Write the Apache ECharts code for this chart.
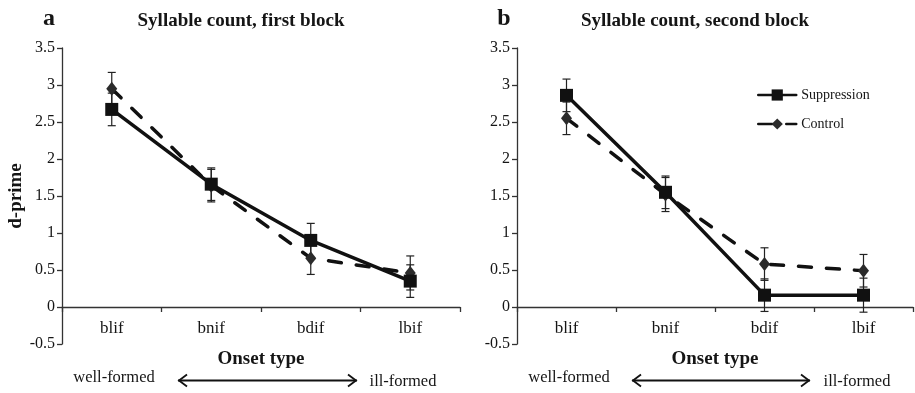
<!DOCTYPE html>
<html>
<head>
<meta charset="utf-8">
<script src="https://cdn.jsdelivr.net/npm/echarts@6/dist/echarts.min.js"></script>
<style>
  html, body { margin: 0; padding: 0; background: #fff; }
  #chart { width: 915px; height: 393px; }
</style>
</head>
<body>
<div id="chart"></div>
<script>
// Onset types on the x axis (well-formed -> ill-formed)
const onsetTypes = ['blif', 'bnif', 'bdif', 'lbif'];
const yTicks = { min: -0.5, max: 3.5, step: 0.5 };

// Panel a: syllable count, first block (mean d-prime and error bar half-width)
const firstSuppression = [2.67, 1.66, 0.90, 0.35];
const firstSuppressionErr = [0.22, 0.22, 0.23, 0.22];
const firstControl = [2.95, 1.64, 0.66, 0.46];
const firstControlErr = [0.22, 0.22, 0.22, 0.23];

// Panel b: syllable count, second block
const secondSuppression = [2.86, 1.55, 0.16, 0.16];
const secondSuppressionErr = [0.22, 0.22, 0.22, 0.23];
const secondControl = [2.55, 1.52, 0.58, 0.49];
const secondControlErr = [0.22, 0.23, 0.22, 0.22];

const SERIF = "'Liberation Serif', 'DejaVu Serif', serif";
const INK = '#151515';

const chart = echarts.init(document.getElementById('chart'), null, { renderer: 'canvas' });

function xAxisFor(idx) {
  return {
    type: 'category',
    gridIndex: idx,
    data: onsetTypes,
    boundaryGap: true,
    name: 'Onset type',
    nameLocation: 'middle',
    nameGap: 6,
    nameTextStyle: { fontFamily: SERIF, fontWeight: 'bold', fontSize: 19, color: INK },
    axisLine: { onZero: true, lineStyle: { color: '#333', width: 1.3 } },
    axisTick: { show: true, alignWithLabel: false, length: 5, lineStyle: { color: '#333', width: 1.3 } },
    axisLabel: { fontFamily: SERIF, fontSize: 17, color: INK, margin: -24 },
    splitLine: { show: false }
  };
}

function yAxisFor(idx, withName) {
  return {
    type: 'value',
    gridIndex: idx,
    min: yTicks.min,
    max: yTicks.max,
    interval: yTicks.step,
    name: withName ? 'd-prime' : '',
    nameLocation: 'middle',
    nameRotate: 90,
    nameGap: 36,
    nameTextStyle: { fontFamily: SERIF, fontWeight: 'bold', fontSize: 19, color: INK },
    axisLine: { show: true, lineStyle: { color: '#333', width: 1.3 } },
    axisTick: { show: true, length: 5, lineStyle: { color: '#333', width: 1.3 } },
    axisLabel: { fontFamily: SERIF, fontSize: 16, color: INK, margin: 7 },
    splitLine: { show: false }
  };
}

function meanSeries(name, values, idx, isControl) {
  return {
    name: name,
    type: 'line',
    xAxisIndex: idx,
    yAxisIndex: idx,
    data: values,
    symbol: isControl ? 'diamond' : 'rect',
    symbolSize: isControl ? [11, 14] : 13,
    color: isControl ? '#2b2b2b' : '#111',
    itemStyle: { color: isControl ? '#2b2b2b' : '#111', borderWidth: 0 },
    lineStyle: {
      color: '#111',
      width: 3.5,
      type: isControl ? [13, 15] : 'solid',
      cap: 'round'
    },
    z: isControl ? 3 : 4,
    animation: false,
    silent: true
  };
}

function errorSeries(name, values, errs, idx) {
  return {
    name: name,
    type: 'custom',
    xAxisIndex: idx,
    yAxisIndex: idx,
    data: values.map((v, i) => [i, v - errs[i], v + errs[i]]),
    encode: { x: 0, y: [1, 2] },
    renderItem: function (params, api) {
      const cat = api.value(0);
      const lo = api.coord([cat, api.value(1)]);
      const hi = api.coord([cat, api.value(2)]);
      const half = 4;
      const style = { stroke: '#222', lineWidth: 1.2, fill: null };
      return {
        type: 'group',
        children: [
          { type: 'line', shape: { x1: lo[0], y1: lo[1], x2: hi[0], y2: hi[1] }, style: style },
          { type: 'line', shape: { x1: lo[0] - half, y1: lo[1], x2: lo[0] + half, y2: lo[1] }, style: style },
          { type: 'line', shape: { x1: hi[0] - half, y1: hi[1], x2: hi[0] + half, y2: hi[1] }, style: style }
        ]
      };
    },
    z: 2,
    animation: false,
    silent: true
  };
}

function label(x, y, text, font) {
  return {
    type: 'text',
    x: x,
    y: y,
    silent: true,
    style: {
      text: text,
      font: font,
      fill: INK,
      align: 'center',
      verticalAlign: 'middle',
      textAlign: 'center',
      textVerticalAlign: 'middle'
    }
  };
}

// double-headed arrow between "well-formed" and "ill-formed"
function arrow(x1, x2, y) {
  const s = { stroke: '#111', lineWidth: 1.8, fill: null };
  return [
    { type: 'line', silent: true, shape: { x1: x1, y1: y, x2: x2, y2: y }, style: s },
    { type: 'polyline', silent: true, shape: { points: [[x1 + 9, y - 6], [x1 + 1, y], [x1 + 9, y + 6]] }, style: s },
    { type: 'polyline', silent: true, shape: { points: [[x2 - 9, y - 6], [x2 - 1, y], [x2 - 9, y + 6]] }, style: s }
  ];
}

const titleFont = 'bold 19px ' + SERIF;
const letterFont = 'bold 24px ' + SERIF;
const noteFont = '16.5px ' + SERIF;

const option = {
  backgroundColor: '#fff',
  animation: false,
  grid: [
    { left: 62, top: 48, width: 398, height: 296, containLabel: false, outerBoundsMode: 'none' },
    { left: 517, top: 48, width: 396, height: 296, containLabel: false, outerBoundsMode: 'none' }
  ],
  xAxis: [xAxisFor(0), xAxisFor(1)],
  yAxis: [yAxisFor(0, true), yAxisFor(1, false)],
  legend: {
    data: [
      { name: 'Suppression' },
      { name: 'Control', lineStyle: { type: [14, 14, 10] } }
    ],
    orient: 'vertical',
    left: 757,
    top: 88,
    padding: 0,
    itemWidth: 38,
    itemHeight: 14,
    itemGap: 15,
    selectedMode: false,
    lineStyle: { width: 2.5 },
    textStyle: { fontFamily: SERIF, fontSize: 14, color: INK }
  },
  series: [
    errorSeries('Control error', firstControl, firstControlErr, 0),
    errorSeries('Suppression error', firstSuppression, firstSuppressionErr, 0),
    meanSeries('Control', firstControl, 0, true),
    meanSeries('Suppression', firstSuppression, 0, false),
    errorSeries('Control error', secondControl, secondControlErr, 1),
    errorSeries('Suppression error', secondSuppression, secondSuppressionErr, 1),
    meanSeries('Control', secondControl, 1, true),
    meanSeries('Suppression', secondSuppression, 1, false)
  ],
  graphic: [
    label(49, 19, 'a', letterFont),
    label(241, 21, 'Syllable count, first block', titleFont),
    label(504, 19, 'b', letterFont),
    label(695, 21, 'Syllable count, second block', titleFont),
    label(114, 378, 'well-formed', noteFont),
    label(403, 382, 'ill-formed', noteFont),
    label(569, 378, 'well-formed', noteFont),
    label(857, 382, 'ill-formed', noteFont)
  ].concat(arrow(178, 357, 380.5), arrow(632, 810, 380.5))
};

chart.setOption(option);
</script>
</body>
</html>
